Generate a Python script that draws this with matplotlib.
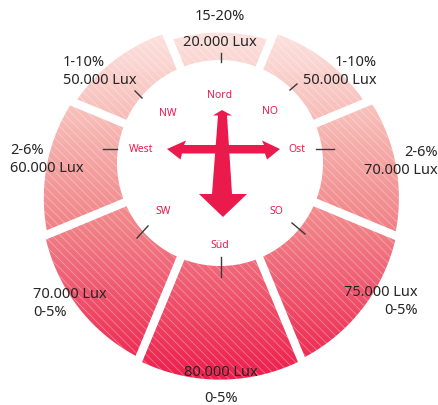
import numpy as np
import matplotlib
matplotlib.use("Agg")
import matplotlib.pyplot as plt
from matplotlib.colors import LinearSegmentedColormap
from matplotlib.patches import Polygon

# data: one wedge per compass direction, clockwise from north
directions = ['Nord', 'NO', 'Ost', 'SO', 'Süd', 'SW', 'West', 'NW']
lux = [20000, 50000, 70000, 75000, 80000, 70000, 60000, 50000]
shares = ['15-20%', '1-10%', '2-6%', '0-5%', '0-5%', '0-5%', '2-6%', '1-10%']

plt.rcParams['font.family'] = ['Noto Sans', 'DejaVu Sans']
plt.rcParams['hatch.linewidth'] = 0.6

W, H = 439, 405
cx, cy = 220, 163      # centre of the white hole (pixels)
R_px = 230             # pixel radius of the polar axes
r_in = 103             # radius of the white hole
drop = 35              # outer arcs are centred a bit below the hole


def outer_radius(v):
    # radius of the outer arc for a lux value
    return 160 + 2.7e-4 * v


fig = plt.figure(figsize=(W / 100, H / 100), dpi=100)

# background axes for the gradient fill
bg = fig.add_axes([0, 0, 1, 1])
bg.set_xlim(0, W)
bg.set_ylim(H, 0)
bg.axis('off')

# polar axes with the wedges, radial unit = pixel
ax = fig.add_axes([(cx - R_px) / W, (H - cy - R_px) / H, 2 * R_px / W, 2 * R_px / H],
                  projection='polar')
ax.set_theta_zero_location('N')
ax.set_theta_direction(-1)
ax.set_ylim(0, R_px)
ax.axis('off')
ax.patch.set_alpha(0)

theta = np.deg2rad(np.arange(len(directions)) * 45)
half = np.deg2rad(22.5)

# vertical gradient, light pink at the top, red at the bottom
stops = [(0.00, '#fde6e3'), (0.10, '#fbd8d4'), (0.25, '#f8c0bb'), (0.40, '#f4a3a1'),
         (0.57, '#f18388'), (0.72, '#ef6075'), (0.85, '#ee4060'), (1.00, '#ec1e4c')]
cmap = LinearSegmentedColormap.from_list('warm', stops)
grad = np.linspace(0, 1, 400).reshape(-1, 1)

for t, v in zip(theta, lux):
    ts = np.linspace(t - half, t + half, 120)
    R = outer_radius(v)
    r_out = -drop * np.cos(ts) + np.sqrt(R ** 2 - (drop * np.sin(ts)) ** 2)
    th = np.concatenate([ts, ts[::-1]])
    rr = np.concatenate([r_out, np.full_like(ts, r_in)])
    # faint white stripes on top of the gradient, like the printed texture
    wedge = ax.fill(th, rr, facecolor='none', edgecolor=(1, 1, 1, 0.35),
                    lw=0, hatch='\\\\\\\\')[0]
    im = bg.imshow(grad, cmap=cmap, extent=(0, W, 380, 20), aspect='auto',
                   interpolation='bilinear')
    im.set_clip_path(wedge.get_path(), ax.transData)

# constant width white gaps between the wedges
for t in theta:
    ax.plot([t + half] * 2, [r_in - 5, R_px], color='white', lw=6, solid_capstyle='butt')

# overlay axes for text, ticks and the compass arrows
top = fig.add_axes([0, 0, 1, 1])
top.set_xlim(0, W)
top.set_ylim(H, 0)
top.axis('off')
top.patch.set_alpha(0)

red = '#ea1a4d'
dark = '#262626'

# compass arrows
vert = [(222, 110), (213, 115.5), (218, 115.5), (212, 194), (199, 194), (223, 217),
        (247, 194), (232, 194), (227, 115.5), (232, 115.5)]
horiz = [(167, 149), (186, 140.5), (184, 145), (264, 145), (262, 140.5), (280, 149),
         (267, 159.5), (265, 153.5), (182, 153.5), (180.5, 159.5)]
top.add_patch(Polygon(horiz, closed=True, color=red, lw=0))
top.add_patch(Polygon(vert, closed=True, color=red, lw=0))

# compass labels and their tick lines
compass_pos = {'Nord': (220, 96), 'NO': (270, 112), 'Ost': (297, 150), 'SO': (276, 212),
               'Süd': (220, 246), 'SW': (163, 211), 'West': (141, 150), 'NW': (168, 113)}
ticks = {'Nord': ((221, 53), (221, 62)), 'NO': ((290, 90), (297, 84)),
         'Ost': ((316, 149), (334, 149)), 'SO': ((292, 223), (305, 234)),
         'Süd': ((221, 257), (221, 277)), 'SW': ((148, 226), (137, 238)),
         'West': ((103, 149), (117, 149)), 'NW': ((135, 91), (142, 98))}
for d in directions:
    x, y = compass_pos[d]
    top.text(x, y, d, color=red, fontsize=7.5, fontweight='bold', ha='center', va='center')
    (x0, y0), (x1, y1) = ticks[d]
    top.plot([x0, x1], [y0, y1], color='#3a3a3a', lw=1.0)

# value labels: (x, y of first line, alignment, lux line first?)
label_pos = {'Nord': (220, 17, 'center', False), 'NO': (377, 62, 'right', False),
             'Ost': (438, 152, 'right', False), 'SO': (418, 293, 'right', True),
             'Süd': (221, 372, 'center', True), 'SW': (33, 294, 'left', True),
             'West': (10, 150, 'left', False), 'NW': (63, 62, 'left', False)}
for d, v, s in zip(directions, lux, shares):
    x, y, ha, lux_first = label_pos[d]
    lux_txt = f"{v:,}".replace(',', '.') + ' Lux'
    lines = [lux_txt, s] if lux_first else [s, lux_txt]
    gap = 26 if d in ('Süd', 'Nord') else 18
    for i, t in enumerate(lines):
        top.text(x, y + i * gap, t, color=dark, fontsize=10.5, fontweight='medium',
                 ha=ha, va='center')

fig.savefig('out.png', dpi=100)
